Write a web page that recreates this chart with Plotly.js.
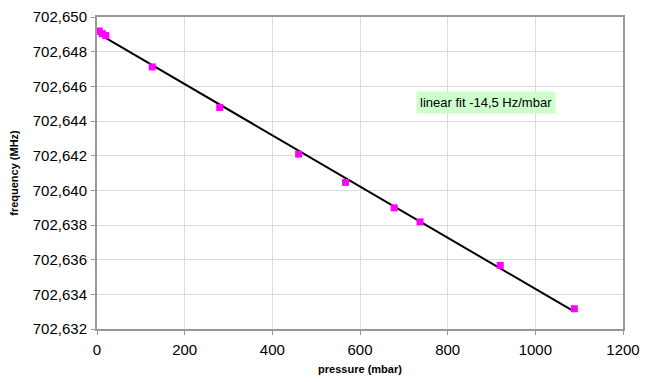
<!DOCTYPE html>
<html><head><meta charset="utf-8">
<script src="https://cdn.plot.ly/plotly-3.0.1.min.js"></script>
<style>body{margin:0;background:#fff}#c{width:652px;height:382px}</style>
</head><body><div id="c"></div>
<script>
const pressure = [5, 12, 20, 126, 280, 460, 567, 678, 737, 920, 1089];
const frequency = [702.64919, 702.64904, 702.64893, 702.64712, 702.64478, 702.64209, 702.64046, 702.63899, 702.63818, 702.63567, 702.63317];
const fitLabel = 'linear fit -14,5 Hz/mbar';

// least-squares fit line from the data
const n = pressure.length;
const mx = pressure.reduce((a,b)=>a+b,0)/n;
const my = frequency.reduce((a,b)=>a+b,0)/n;
let sxy=0,sxx=0;
for(let i=0;i<n;i++){sxy+=(pressure[i]-mx)*(frequency[i]-my);sxx+=(pressure[i]-mx)**2;}
const slope=sxy/sxx, icpt=my-slope*mx;
const fitX=[0, Math.max(...pressure)];
const fitY=fitX.map(x=>icpt+slope*x);

const font='Liberation Sans, Arial, sans-serif';
Plotly.newPlot('c',[
 {x:fitX,y:fitY,mode:'lines',line:{color:'#000',width:2},hoverinfo:'skip'},
 {x:pressure,y:frequency,mode:'markers',marker:{symbol:'square',size:7,color:'#ff00ff'}}
],{
 width:652,height:382,showlegend:false,
 margin:{l:97,r:29,t:17,b:53},
 paper_bgcolor:'#fff',plot_bgcolor:'#fff',
 separators:',.',
 font:{family:font,size:15,color:'#000'},
 xaxis:{range:[0,1200],dtick:200,tick0:0,showgrid:true,gridcolor:'#dcdcdc',gridwidth:1,
   showline:true,linecolor:'#999',linewidth:2,mirror:true,zeroline:false,
   ticks:'outside',ticklen:4,tickcolor:'#999',ticklabelstandoff:2,
   title:{text:'<b>pressure (mbar)</b>',font:{size:11,family:font},standoff:8}},
 yaxis:{range:[702.632,702.650],dtick:0.002,tick0:702.632,tickformat:'.3f',showgrid:true,gridcolor:'#dcdcdc',gridwidth:1,
   showline:true,linecolor:'#999',linewidth:2,mirror:true,zeroline:false,
   ticks:'outside',ticklen:4,tickcolor:'#999',ticklabelstandoff:1,
   title:{text:'<b>frequency (MHz)</b>',font:{size:11,family:font},standoff:12}},
 annotations:[{x:0.7395,y:0.7253,xref:'paper',yref:'paper',xanchor:'center',yanchor:'middle',text:fitLabel,showarrow:false,
   bgcolor:'#ccffcc',font:{size:13,family:font,color:'#000'},borderpad:3}]
},{displayModeBar:false,staticPlot:true});
</script></body></html>
